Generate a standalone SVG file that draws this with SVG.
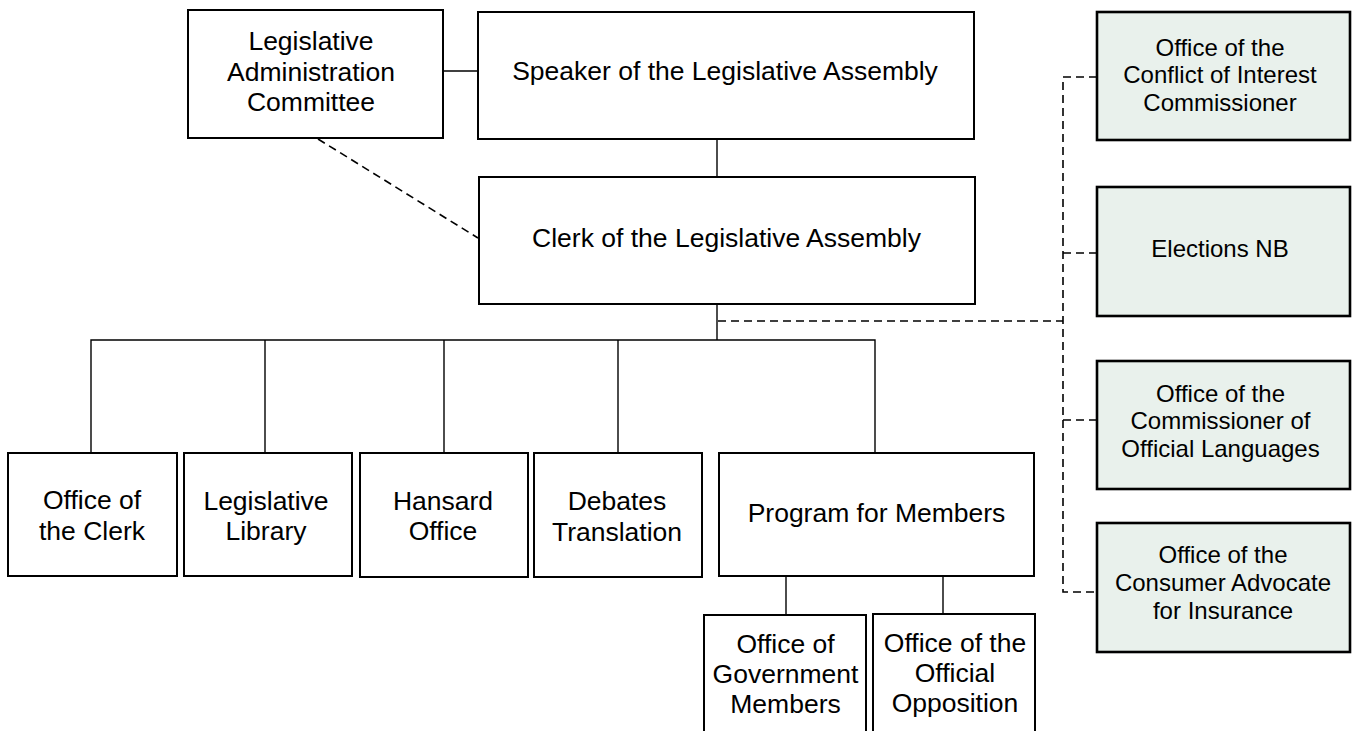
<svg xmlns="http://www.w3.org/2000/svg" width="1352" height="731" viewBox="0 0 1352 731">
<style>
.box{fill:#ffffff;stroke:#000000;stroke-width:2}
.gbox{fill:#e9f1ec;stroke:#000000;stroke-width:2.6}
.t{font-family:"Liberation Sans",Arial,sans-serif;font-size:26.5px;fill:#000000;text-anchor:middle}
.tg{font-family:"Liberation Sans",Arial,sans-serif;font-size:24px;fill:#000000;text-anchor:middle}
.ln{stroke:#000000;stroke-width:1.4;fill:none}
.dl{stroke:#000000;stroke-width:1.6;fill:none;stroke-dasharray:8 5}
</style>
<rect width="1352" height="731" fill="#ffffff"/>
<g id="connectors">
<line class="ln" x1="443" y1="71" x2="478" y2="71"/>
<line class="ln" x1="717" y1="139" x2="717" y2="177"/>
<line class="ln" x1="717" y1="304" x2="717" y2="340"/>
<polyline class="ln" points="91,453 91,340 875,340 875,453"/>
<line class="ln" x1="265" y1="340" x2="265" y2="453"/>
<line class="ln" x1="444" y1="340" x2="444" y2="453"/>
<line class="ln" x1="618" y1="340" x2="618" y2="453"/>
<line class="ln" x1="786" y1="576" x2="786" y2="615"/>
<line class="ln" x1="943" y1="576" x2="943" y2="614"/>
<line class="dl" x1="318" y1="139" x2="478" y2="238"/>
<line class="dl" x1="718" y1="321" x2="1063" y2="321"/>
<polyline class="dl" points="1097,77 1063,77 1063,592 1097,592"/>
<line class="dl" x1="1063" y1="253" x2="1097" y2="253"/>
<line class="dl" x1="1063" y1="420" x2="1097" y2="420"/>
</g>
<g id="n-admin"><rect class="box" x="188" y="10" width="255" height="128"/><text class="t" x="311" y="50">Legislative</text><text class="t" x="311" y="80.5">Administration</text><text class="t" x="311" y="111">Committee</text></g>
<g id="n-speaker"><rect class="box" x="478" y="12" width="496" height="127"/><text class="t" x="725" y="80">Speaker of the Legislative Assembly</text></g>
<g id="n-clerk"><rect class="box" x="479" y="177" width="496" height="127"/><text class="t" x="726.5" y="247">Clerk of the Legislative Assembly</text></g>
<g id="n-conflict"><rect class="gbox" x="1097" y="12" width="253" height="128"/><text class="tg" x="1220" y="55.5">Office of the</text><text class="tg" x="1220" y="83">Conflict of Interest</text><text class="tg" x="1220" y="110.5">Commissioner</text></g>
<g id="n-elections"><rect class="gbox" x="1097" y="187" width="253" height="129"/><text class="tg" x="1220" y="257">Elections NB</text></g>
<g id="n-languages"><rect class="gbox" x="1097" y="361" width="253" height="128"/><text class="tg" x="1220.5" y="401.5">Office of the</text><text class="tg" x="1220.5" y="429">Commissioner of</text><text class="tg" x="1220.5" y="456.5">Official Languages</text></g>
<g id="n-consumer"><rect class="gbox" x="1097" y="523" width="253" height="129"/><text class="tg" x="1223" y="563">Office of the</text><text class="tg" x="1223" y="591">Consumer Advocate</text><text class="tg" x="1223" y="618.5">for Insurance</text></g>
<g id="n-officeclerk"><rect class="box" x="8" y="453" width="169" height="123"/><text class="t" x="92" y="509">Office of</text><text class="t" x="92" y="539.5">the Clerk</text></g>
<g id="n-library"><rect class="box" x="184" y="453" width="168" height="123"/><text class="t" x="266" y="510">Legislative</text><text class="t" x="266" y="540">Library</text></g>
<g id="n-hansard"><rect class="box" x="360" y="453" width="168" height="124"/><text class="t" x="443" y="510">Hansard</text><text class="t" x="443" y="540">Office</text></g>
<g id="n-debates"><rect class="box" x="534" y="453" width="168" height="124"/><text class="t" x="617" y="510">Debates</text><text class="t" x="617" y="540.5">Translation</text></g>
<g id="n-program"><rect class="box" x="719" y="453" width="315" height="123"/><text class="t" x="876.5" y="521.5">Program for Members</text></g>
<g id="n-government"><rect class="box" x="704" y="615" width="162" height="130"/><text class="t" x="785.5" y="652.5">Office of</text><text class="t" x="785.5" y="682.5">Government</text><text class="t" x="785.5" y="712.5">Members</text></g>
<g id="n-opposition"><rect class="box" x="873" y="614" width="162" height="131"/><text class="t" x="955" y="651.5">Office of the</text><text class="t" x="955" y="682">Official</text><text class="t" x="955" y="712">Opposition</text></g>
</svg>
